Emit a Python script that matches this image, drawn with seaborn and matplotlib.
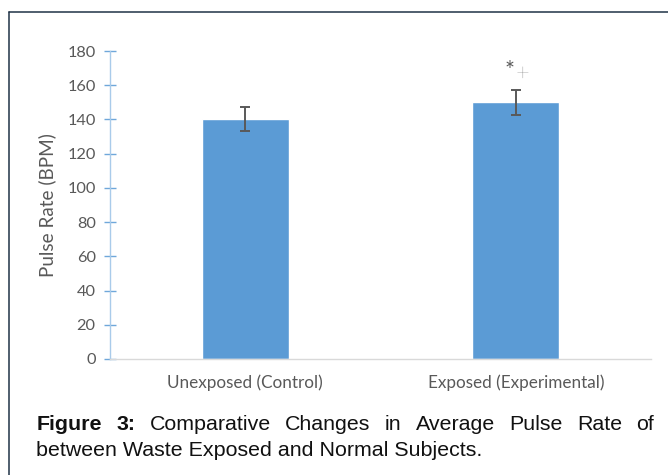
import matplotlib
matplotlib.use("Agg")
import matplotlib.pyplot as plt
from matplotlib.lines import Line2D
import seaborn as sns
import pandas as pd

# --- data -------------------------------------------------------------
groups = ["Unexposed (Control)", "Exposed (Experimental)"]
pulse_mean = [140, 150]
pulse_err = [7, 7.5]
y_ticks = [0, 20, 40, 60, 80, 100, 120, 140, 160, 180]
y_label = "Pulse Rate (BPM)"
sig_marks = ["*", "+"]
caption_bold = ["Figure", "3:"]
caption_line1 = ["Comparative", "Changes", "in", "Average", "Pulse", "Rate", "of"]
caption_line2 = "between Waste Exposed and Normal Subjects."

# --- style ------------------------------------------------------------
sns.set_theme(style="white")
plt.rcParams["font.family"] = ["Lato", "DejaVu Sans"]

BAR_BLUE = "#5B9BD5"
AXIS_BLUE = "#A9CBEA"
TICK_BLUE = "#6FA7DA"
TEXT_GREY = "#595959"
FRAME = "#1F3347"

W, H = 668, 475
fig = plt.figure(figsize=(W / 100, H / 100), dpi=100)
fig.patch.set_facecolor("white")

ax = fig.add_axes([110 / W, 1 - 359 / H, (651 - 110) / W, (359 - 51) / H])

df = pd.DataFrame({"group": groups, "pulse": pulse_mean})
sns.barplot(data=df, x="group", y="pulse", color=BAR_BLUE, width=0.32,
            saturation=1, errorbar=None, ax=ax, zorder=2)
ax.errorbar(range(len(groups)), pulse_mean, yerr=pulse_err, fmt="none",
            ecolor=TEXT_GREY, elinewidth=1.4, capsize=3.4, capthick=1.4, zorder=3)

ax.set_xlim(-0.5, 1.5)
ax.set_ylim(0, 180)
ax.set_yticks(y_ticks)
ax.set_xlabel("")
ax.set_ylabel(y_label, fontsize=13.6, color=TEXT_GREY, labelpad=8)

for side in ("top", "right"):
    ax.spines[side].set_visible(False)
ax.spines["left"].set_color(AXIS_BLUE)
ax.spines["left"].set_linewidth(1.0)
ax.spines["bottom"].set_color("#D9D9D9")
ax.spines["bottom"].set_linewidth(1.0)

ax.tick_params(axis="y", direction="inout", length=8.6, width=1.0,
               color=TICK_BLUE, labelsize=11.8, labelcolor=TEXT_GREY, pad=6, left=True)
ax.tick_params(axis="x", length=0, labelsize=12.3, labelcolor=TEXT_GREY, pad=11)
ax.grid(False)

# significance marks above the exposed bar
ax.text(0.977, 168.8, sig_marks[0], ha="center", va="center", fontsize=17,
        color=TEXT_GREY)
ax.text(1.025, 166.3, sig_marks[1], ha="center", va="center", fontsize=17,
        color=TEXT_GREY, fontweight="light")

# --- caption (first line justified) -----------------------------------
cap_font = dict(family="Liberation Sans", fontsize=15.4, color="#111111")
left_px, right_px = 36.5, 654.0
base1, base2 = 430.5, 455.5

fig.canvas.draw()
renderer = fig.canvas.get_renderer()
words = [(w, "bold") for w in caption_bold] + [(w, "normal") for w in caption_line1]
artists = []
for w, weight in words:
    t = fig.text(0, 1 - base1 / H, w, ha="left", va="baseline",
                 fontweight=weight, **cap_font)
    artists.append(t)
widths = [a.get_window_extent(renderer).width for a in artists]
gap = (right_px - left_px - sum(widths)) / (len(artists) - 1)
x = left_px
for a, wd in zip(artists, widths):
    a.set_x(x / W)
    x += wd + gap

fig.text(left_px / W, 1 - base2 / H, caption_line2, ha="left", va="baseline", **cap_font)

# --- frame around the figure panel --------------------------------------
fig.add_artist(Line2D([8.5 / W, 8.5 / W], [1 - 12 / H, 0], color=FRAME, lw=1.1,
                      transform=fig.transFigure))
fig.add_artist(Line2D([8.5 / W, 1], [1 - 12 / H, 1 - 12 / H], color=FRAME, lw=1.1,
                      transform=fig.transFigure))

fig.savefig("out.png", dpi=100)
